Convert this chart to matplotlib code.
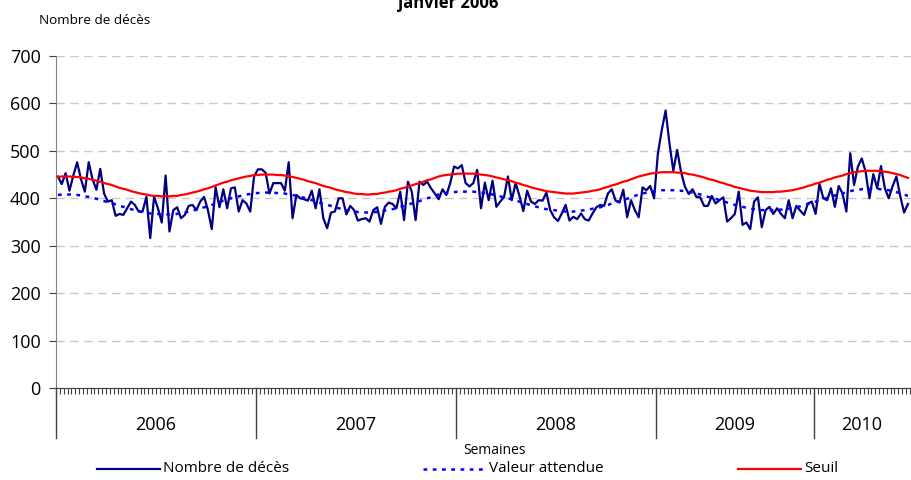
import numpy as np
import matplotlib.pyplot as plt
from matplotlib.lines import Line2D
import matplotlib.transforms as mtransforms

plt.rcParams['font.family'] = ['Open Sans', 'DejaVu Sans']

# ==================== données hebdomadaires ====================
annees = ['2006', '2007', '2008', '2009', '2010']

deces_2006 = [446, 430, 453, 416, 448, 476, 440, 414, 476, 440, 418, 462, 410, 393, 396, 363,
              367, 365, 379, 393, 386, 372, 372, 403, 316, 403, 379, 349, 448, 330, 375, 381,
              358, 365, 384, 386, 375, 393, 403, 375, 335, 423, 381, 419, 379, 421, 423, 372,
              396, 389, 372, 446]
deces_2007 = [461, 461, 454, 410, 432, 432, 432, 416, 476, 358, 407, 400, 398, 395, 416, 379,
              419, 358, 337, 370, 372, 400, 400, 366, 384, 375, 353, 356, 358, 351, 375, 381,
              346, 382, 391, 388, 379, 414, 354, 435, 414, 354, 435, 428, 435, 421, 410, 398,
              419, 407, 432, 467]
deces_2008 = [463, 470, 432, 425, 432, 460, 379, 433, 396, 437, 382, 393, 403, 446, 396, 432,
              405, 373, 416, 393, 388, 396, 395, 412, 375, 360, 352, 368, 386, 353, 361, 356,
              368, 356, 353, 368, 381, 386, 384, 410, 419, 395, 391, 418, 360, 396, 375, 360,
              423, 417, 426, 400]
deces_2009 = [495, 544, 585, 516, 458, 502, 456, 425, 409, 419, 403, 402, 384, 384, 405, 389,
              396, 402, 351, 358, 367, 414, 344, 349, 335, 393, 402, 339, 375, 382, 367, 379,
              367, 358, 396, 358, 384, 374, 365, 389, 393]
deces_2010 = [367, 431, 400, 396, 421, 382, 426, 410, 372, 495, 428, 467, 484, 456, 400, 451,
              421, 468, 421, 400, 425, 446, 405, 370, 388]

attendu_2006 = [407, 408, 408, 408, 407, 407, 406, 404, 403, 401, 399, 397, 394, 392, 390, 387,
                384, 382, 380, 377, 375, 373, 371, 370, 368, 367, 367, 366, 366, 366, 367, 367,
                369, 370, 372, 374, 376, 378, 381, 383, 386, 389, 392, 395, 397, 400, 402, 404,
                406, 408, 409, 411]
attendu_2007 = [411, 412, 412, 412, 412, 411, 411, 410, 408, 407, 405, 403, 401, 398, 396, 394,
                391, 388, 386, 384, 381, 379, 377, 375, 374, 372, 371, 371, 370, 370, 371, 371,
                373, 374, 376, 377, 379, 382, 384, 387, 389, 392, 394, 397, 400, 402, 405, 408,
                410, 411, 412, 413]
attendu_2008 = [414, 414, 414, 414, 414, 413, 412, 411, 410, 408, 406, 404, 402, 400, 398, 395,
                393, 390, 388, 385, 383, 381, 379, 377, 376, 375, 374, 373, 372, 372, 372, 373,
                374, 375, 376, 378, 379, 381, 384, 386, 389, 391, 394, 397, 399, 402, 405, 408,
                410, 412, 414, 415]
attendu_2009 = [416, 417, 417, 417, 417, 416, 416, 415, 413, 412, 410, 408, 406, 403, 401, 399,
                396, 394, 391, 389, 386, 384, 382, 380, 378, 377, 376, 375, 375, 375, 375, 376,
                376, 377, 378, 379, 381, 383, 385, 388, 390]
attendu_2010 = [393, 395, 398, 401, 403, 406, 408, 410, 413, 415, 417, 418, 419, 420, 420, 420,
                420, 419, 418, 417, 415, 413, 411, 408, 405]

seuil_2006 = [445, 446, 446, 446, 445, 445, 444, 442, 441, 439, 437, 435, 432, 430, 428, 425,
              422, 420, 418, 415, 413, 411, 409, 408, 406, 405, 405, 404, 404, 404, 405, 405,
              407, 408, 410, 412, 414, 416, 419, 421, 424, 427, 430, 433, 435, 438, 440, 442,
              444, 446, 447, 449]
seuil_2007 = [449, 450, 450, 450, 450, 449, 449, 448, 446, 445, 443, 441, 439, 436, 434, 432,
              429, 426, 424, 422, 419, 417, 415, 413, 412, 410, 409, 409, 408, 408, 409, 409,
              411, 412, 414, 415, 417, 420, 422, 425, 427, 430, 432, 435, 438, 440, 443, 446,
              448, 449, 450, 451]
seuil_2008 = [452, 452, 452, 452, 452, 451, 450, 449, 448, 446, 444, 442, 440, 438, 436, 433,
              431, 428, 426, 423, 421, 419, 417, 415, 414, 413, 412, 411, 410, 410, 410, 411,
              412, 413, 414, 416, 417, 419, 422, 424, 427, 429, 432, 435, 437, 440, 443, 446,
              448, 450, 452, 453]
seuil_2009 = [454, 455, 455, 455, 455, 454, 454, 453, 451, 450, 448, 446, 444, 441, 439, 437,
              434, 432, 429, 427, 424, 422, 420, 418, 416, 415, 414, 413, 413, 413, 413, 414,
              414, 415, 416, 417, 419, 421, 423, 426, 428]
seuil_2010 = [431, 433, 436, 439, 441, 444, 446, 448, 451, 453, 455, 456, 457, 458, 458, 458,
              458, 457, 456, 455, 453, 451, 449, 446, 443]

deces = deces_2006 + deces_2007 + deces_2008 + deces_2009 + deces_2010
attendu = attendu_2006 + attendu_2007 + attendu_2008 + attendu_2009 + attendu_2010
seuil = seuil_2006 + seuil_2007 + seuil_2008 + seuil_2009 + seuil_2010
nb_semaines = [len(deces_2006), len(deces_2007), len(deces_2008), len(deces_2009), len(deces_2010)]
semaines = np.arange(len(deces))

# ==================== figure ====================
W, H = 911, 480
fig = plt.figure(figsize=(W / 100, H / 100), dpi=100)
ax = fig.add_axes([56 / W, 92 / H, 855 / W, 332 / H])

ax.plot(semaines, deces, color='#000080', lw=1.6, zorder=3)
ax.plot(semaines, attendu, color='#0000ff', lw=1.8, linestyle=(0, (1.5, 2.2)), zorder=3)
ax.plot(semaines, seuil, color='#ff0000', lw=1.6, zorder=4)

ax.set_xlim(-0.5, len(deces) - 0.2)
ax.set_ylim(0, 700)
ax.set_yticks(range(0, 701, 100))
ax.tick_params(axis='y', labelsize=13, length=5, pad=6, colors='#404040', labelcolor='black')
ax.grid(axis='y', color='#c8c8c8', linestyle=(0, (6, 4)), lw=1)
ax.set_axisbelow(True)

for s in ['top', 'right']:
    ax.spines[s].set_visible(False)
ax.spines['left'].set_color('#808080')
ax.spines['bottom'].set_color('#404040')

# une graduation par semaine
ax.set_xticks(np.arange(-0.5, len(deces), 1))
ax.set_xticklabels([])
ax.tick_params(axis='x', length=4, width=0.8, colors='#404040')

# séparateurs et libellés des années
trans = mtransforms.blended_transform_factory(ax.transData, ax.transAxes)
debut = -0.5
for annee, n in zip(annees, nb_semaines):
    ax.plot([debut, debut], [0, -0.15], transform=trans, color='#404040', lw=1, clip_on=False)
    fin = min(debut + n, len(deces) - 0.2)
    ax.text((debut + fin) / 2, -0.111, annee, transform=trans, ha='center', va='center',
            fontsize=13)
    debut += n

# textes
fig.text(39 / W, 1 - 20 / H, 'Nombre de décès', ha='left', va='center', fontsize=9.7)
fig.text(448 / W, 1 - 8 / H, 'janvier 2006', ha='center', va='baseline', fontsize=12,
         fontweight='bold')
fig.text(495 / W, 1 - 450 / H, 'Semaines', ha='center', va='center', fontsize=10)

# légende
leg_y = 1 - 469 / H
entrees = [(97, 'Nombre de décès', '#000080', '-', 1.6),
           (423, 'Valeur attendue', '#0000ff', (0, (1.5, 2.2)), 1.8),
           (738, 'Seuil', '#ff0000', '-', 1.6)]
for x0, lab, col, ls, lw in entrees:
    fig.add_artist(Line2D([x0 / W, (x0 + 63) / W], [leg_y, leg_y], color=col, ls=ls, lw=lw))
    fig.text((x0 + 66) / W, leg_y, lab, ha='left', va='center', fontsize=11)

plt.savefig('out.png', dpi=100)
plt.close()
